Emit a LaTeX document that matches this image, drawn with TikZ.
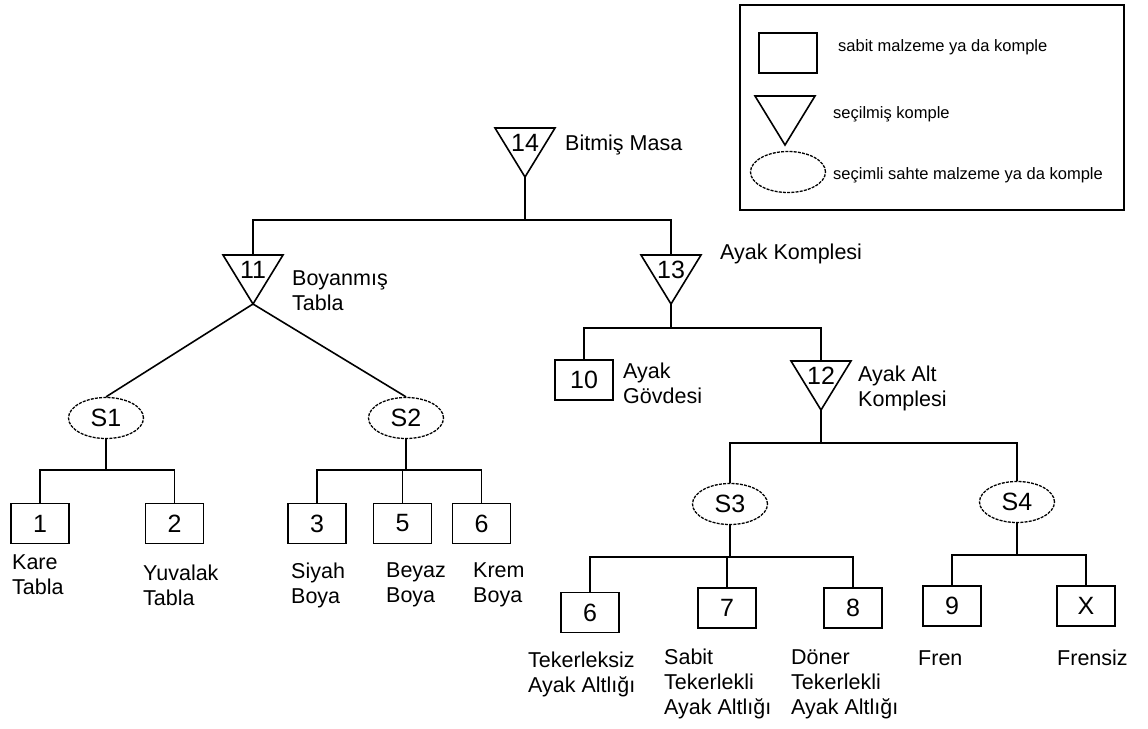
\documentclass[tikz,border=0pt]{standalone}
\usepackage{fontspec}
\setmainfont{Liberation Sans}
\usetikzlibrary{shapes.geometric}
\begin{document}
\begin{tikzpicture}[x=1pt,y=-1pt,
  ln/.style={line width=1.6pt, line join=miter},
  box/.style={draw, line width=1.6pt, rectangle, minimum width=58pt, minimum height=40pt, inner sep=0pt, font=\fontsize{25}{28}\selectfont},
  sel/.style={draw, line width=1.3pt, ellipse, dash pattern=on 3pt off 1.2pt, minimum width=75pt, minimum height=41pt, inner sep=0pt, font=\fontsize{25}{28}\selectfont},
  lbl/.style={anchor=west, align=left, inner sep=0pt, font=\fontsize{21.5}{25}\selectfont},
  leg/.style={anchor=west, inner sep=0pt, font=\fontsize{16.5}{20}\selectfont},
  tri/.pic={\draw[ln] (-30,0) -- (30,0) -- (0,49) -- cycle;
    \coordinate (-top) at (0,0); \coordinate (-apex) at (0,49);
    \node[inner sep=0pt, font=\fontsize{25}{28}\selectfont] (-num) at (0,15) {#1};}
]
\fill[white] (0,0) rectangle (1148,728);
\useasboundingbox (0,0) rectangle (1148,728);

% legend
\draw[ln] (740,5) rectangle (1124,210);
\node[box] (lbox) at (788,53) {};
\node[leg] (ltxt1) at (838,47) {sabit malzeme ya da komple};
\pic (lt) at (785,96) {tri={}};
\node[leg] (ltxt2) at (833,114) {seçilmiş komple};
\node[sel] (lell) at (788,172) {};
\node[leg] (ltxt3) at (833,175) {seçimli sahte malzeme ya da komple};

% triangles
\pic (t14) at (525,128) {tri=14};
\pic (t11) at (253,255) {tri=11};
\pic (t13) at (671,255) {tri=13};
\pic (t12) at (821,361) {tri=12};

% ellipses
\node[sel] (S1) at (106,418) {S1};
\node[sel] (S2) at (406,418) {S2};
\node[sel] (S3) at (730,504) {S3};
\node[sel] (S4) at (1017,502) {S4};

% boxes
\node[box] (b1) at (40,523.5) {1};
\node[box] (b2) at (174.5,523.5) {2};
\node[box] (b3) at (317,523.5) {3};
\node[box] (b5) at (402.5,523.5) {5};
\node[box] (b6a) at (481.5,523.5) {6};
\node[box] (b10) at (584,380) {10};
\node[box] (b6b) at (590,612.5) {6};
\node[box] (b7) at (727,608) {7};
\node[box] (b8) at (853,608) {8};
\node[box] (b9) at (952,606) {9};
\node[box] (bX) at (1086,606) {X};

% junctions
\coordinate (j14) at (525,220);
\coordinate (j13) at (671,328);
\coordinate (j12) at (821,443);
\coordinate (j1) at (106,470);
\coordinate (j2) at (406,470);
\coordinate (j3) at (730,557);
\coordinate (j4) at (1017,555);

% connectors
\draw[ln] (t14-apex) -- (j14);
\draw[ln] (t11-top) |- (j14) -| (t13-top);
\draw[ln] (t11-apex) -- (S1.north);
\draw[ln] (t11-apex) -- (S2.north);
\draw[ln] (S1.south) -- (j1);
\draw[ln] (b1.north) |- (j1) -| (b2.north);
\draw[ln] (S2.south) -- (j2);
\draw[ln] (b3.north) |- (j2) -| (b6a.north);
\draw[ln] (b5.north) -- (b5.north |- j2);
\draw[ln] (t13-apex) -- (j13);
\draw[ln] (b10.north) |- (j13) -| (t12-top);
\draw[ln] (t12-apex) -- (j12);
\draw[ln] (S3.north) |- (j12) -| (S4.north);
\draw[ln] (S3.south) -- (j3);
\draw[ln] (b6b.north) |- (j3) -| (b8.north);
\draw[ln] (b7.north) -- (b7.north |- j3);
\draw[ln] (S4.south) -- (j4);
\draw[ln] (b9.north) |- (j4) -| (bX.north);

% labels
\node[lbl] (l14) at (565,145) {Bitmiş Masa};
\node[lbl] (l13) at (720,254) {Ayak Komplesi};
\node[lbl] (l11) at (292,291) {Boyanmış\\Tabla};
\node[lbl] (l10) at (623,383) {Ayak\\Gövdesi};
\node[lbl] (l12) at (858,388) {Ayak Alt\\Komplesi};
\node[lbl] (lk) at (12,575) {Kare\\Tabla};
\node[lbl] (ly) at (143,585) {Yuvalak\\Tabla};
\node[lbl] (ls) at (291,585) {Siyah\\Boya};
\node[lbl] (lb) at (386,585) {Beyaz\\Boya};
\node[lbl] (lkr) at (473,585) {Krem\\Boya};
\node[lbl] (lt6) at (528,674) {Tekerleksiz\\Ayak Altlığı};
\node[lbl] (lt7) at (664,684) {Sabit\\Tekerlekli\\Ayak Altlığı};
\node[lbl] (lt8) at (791,684) {Döner\\Tekerlekli\\Ayak Altlığı};
\node[lbl] (lf) at (918,658) {Fren};
\node[lbl] (lfs) at (1057,658) {Frensiz};
\end{tikzpicture}
\end{document}
